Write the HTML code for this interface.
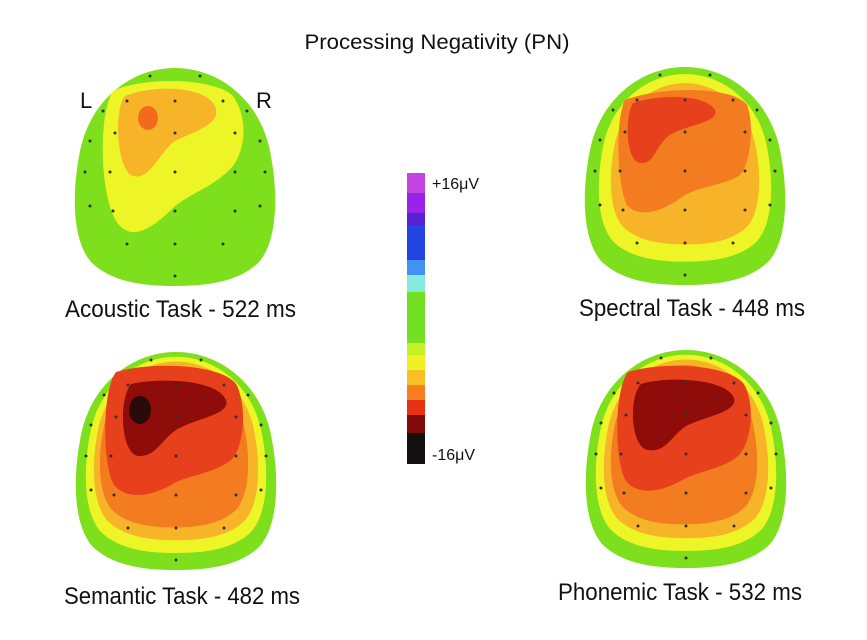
<!DOCTYPE html>
<html><head><meta charset="utf-8"><style>
html,body{margin:0;padding:0;background:#fff;}
svg{display:block;}
text{font-family:"Liberation Sans",sans-serif;fill:#111;}
</style></head><body>
<svg width="867" height="640" viewBox="0 0 867 640" xmlns="http://www.w3.org/2000/svg">
<defs>
<path id="head" d="M0,-108 C45,-108 85,-75 95,-25 C104,20 102,65 84,86 C64,106 32,110 0,110 C-32,110 -64,106 -84,86 C-102,65 -104,20 -95,-25 C-85,-75 -45,-108 0,-108Z"/>
<g id="dots" fill="#333">
<circle cx="-25" cy="-100" r="1.5"/><circle cx="25" cy="-100" r="1.5"/>
<circle cx="-48" cy="-75" r="1.5"/><circle cx="0" cy="-75" r="1.5"/><circle cx="48" cy="-75" r="1.5"/>
<circle cx="-72" cy="-65" r="1.5"/><circle cx="72" cy="-65" r="1.5"/>
<circle cx="-60" cy="-43" r="1.5"/><circle cx="0" cy="-43" r="1.5"/><circle cx="60" cy="-43" r="1.5"/>
<circle cx="-85" cy="-35" r="1.5"/><circle cx="85" cy="-35" r="1.5"/>
<circle cx="-65" cy="-4" r="1.5"/><circle cx="0" cy="-4" r="1.5"/><circle cx="60" cy="-4" r="1.5"/>
<circle cx="-90" cy="-4" r="1.5"/><circle cx="90" cy="-4" r="1.5"/>
<circle cx="-62" cy="35" r="1.5"/><circle cx="0" cy="35" r="1.5"/><circle cx="60" cy="35" r="1.5"/>
<circle cx="-85" cy="30" r="1.5"/><circle cx="85" cy="30" r="1.5"/>
<circle cx="-48" cy="68" r="1.5"/><circle cx="0" cy="68" r="1.5"/><circle cx="48" cy="68" r="1.5"/>
<circle cx="0" cy="100" r="1.5"/>
</g>
</defs>

<text x="437" y="49" font-size="21" text-anchor="middle" textLength="265" lengthAdjust="spacingAndGlyphs">Processing Negativity (PN)</text>

<!-- Acoustic -->
<g transform="translate(175,176)">
<use href="#head" fill="#7ee01c"/>
<path d="M-62,-85 C-30,-100 40,-98 58,-80 C72,-60 72,-30 58,-10 C40,10 20,15 0,30 C-20,50 -40,65 -55,50 C-75,30 -78,-60 -62,-85Z" fill="#eef526"/>
<path d="M-50,-80 C-20,-92 30,-90 40,-70 C48,-52 20,-45 0,-35 C-15,-25 -25,5 -42,0 C-58,-5 -62,-65 -50,-80Z" fill="#f8b428"/>
<ellipse cx="-27" cy="-58" rx="10" ry="12" fill="#f26a1c"/>
<use href="#dots"/>
</g>
<text x="80" y="108" font-size="22">L</text>
<text x="256" y="108" font-size="22">R</text>
<text x="65" y="317" font-size="24" textLength="231" lengthAdjust="spacingAndGlyphs">Acoustic Task - 522 ms</text>

<!-- Spectral -->
<g transform="translate(685,175)">
<use href="#head" fill="#7ee01c"/>
<use href="#head" fill="#eef526" transform="translate(0,-8) scale(0.86)"/>
<use href="#head" fill="#f8b428" transform="translate(0,-12) scale(0.74)"/>
<path d="M-60,-75 C-20,-90 50,-88 62,-70 C70,-50 65,-10 55,0 C40,10 20,10 0,20 C-20,35 -45,45 -58,30 C-68,10 -70,-55 -60,-75Z" fill="#f47c20"/>
<path d="M-52,-72 C-30,-80 20,-82 30,-65 C35,-52 0,-50 -15,-40 C-30,-30 -30,-10 -45,-12 C-60,-15 -60,-60 -52,-72Z" fill="#e6401c"/>
<use href="#dots"/>
</g>
<text x="579" y="316" font-size="24" textLength="226" lengthAdjust="spacingAndGlyphs">Spectral Task - 448 ms</text>

<!-- Colorbar -->
<g>
<rect x="407" y="173" width="18" height="20" fill="#c444e4"/>
<rect x="407" y="193" width="18" height="20" fill="#9a22ea"/>
<rect x="407" y="213" width="18" height="12" fill="#5422d0"/>
<rect x="407" y="225" width="18" height="35" fill="#2244e2"/>
<rect x="407" y="260" width="18" height="15" fill="#4492f0"/>
<rect x="407" y="275" width="18" height="17" fill="#84ecdc"/>
<rect x="407" y="292" width="18" height="51" fill="#74e024"/>
<rect x="407" y="343" width="18" height="12" fill="#c4f024"/>
<rect x="407" y="355" width="18" height="15" fill="#f0f022"/>
<rect x="407" y="370" width="18" height="15" fill="#f8c024"/>
<rect x="407" y="385" width="18" height="15" fill="#f68020"/>
<rect x="407" y="400" width="18" height="15" fill="#e63212"/>
<rect x="407" y="415" width="18" height="18" fill="#800a0a"/>
<rect x="407" y="433" width="18" height="31" fill="#141010"/>
</g>
<text x="432" y="189" font-size="16">+16μV</text>
<text x="432" y="460" font-size="16">-16μV</text>

<!-- Semantic -->
<g transform="translate(176,460)">
<use href="#head" fill="#7ee01c"/>
<use href="#head" fill="#eef526" transform="translate(0,-6) scale(0.9)"/>
<use href="#head" fill="#f8b428" transform="translate(0,-10) scale(0.82)"/>
<use href="#head" fill="#f47c20" transform="translate(-2,-14) scale(0.74)"/>
<path d="M-60,-88 C-20,-100 55,-95 62,-72 C72,-45 66,-10 55,0 C40,12 20,14 0,22 C-20,35 -48,42 -62,25 C-74,5 -74,-70 -60,-88Z" fill="#e6401c"/>
<path d="M-45,-76 C-20,-82 40,-82 50,-60 C55,-45 20,-42 0,-30 C-15,-20 -20,-3 -38,-4 C-55,-6 -58,-60 -45,-76Z" fill="#8e0c0a"/>
<ellipse cx="-36" cy="-50" rx="11" ry="14" fill="#2a0a0a"/>
<use href="#dots"/>
</g>
<text x="64" y="604" font-size="24" textLength="236" lengthAdjust="spacingAndGlyphs">Semantic Task - 482 ms</text>

<!-- Phonemic -->
<g transform="translate(686,458)">
<use href="#head" fill="#7ee01c"/>
<use href="#head" fill="#eef526" transform="translate(0,-6) scale(0.9)"/>
<use href="#head" fill="#f8b428" transform="translate(0,-10) scale(0.82)"/>
<use href="#head" fill="#f47c20" transform="translate(-2,-14) scale(0.73)"/>
<path d="M-58,-86 C-20,-98 52,-93 60,-70 C70,-45 63,-12 52,-2 C38,10 18,12 0,20 C-20,32 -46,40 -60,23 C-72,3 -72,-68 -58,-86Z" fill="#e6401c"/>
<path d="M-45,-74 C-20,-82 40,-80 48,-60 C52,-46 20,-42 0,-32 C-15,-22 -20,-5 -38,-8 C-55,-10 -58,-60 -45,-74Z" fill="#8e0c0a"/>
<use href="#dots"/>
</g>
<text x="558" y="600" font-size="24" textLength="244" lengthAdjust="spacingAndGlyphs">Phonemic Task - 532 ms</text>
</svg>
</body></html>
